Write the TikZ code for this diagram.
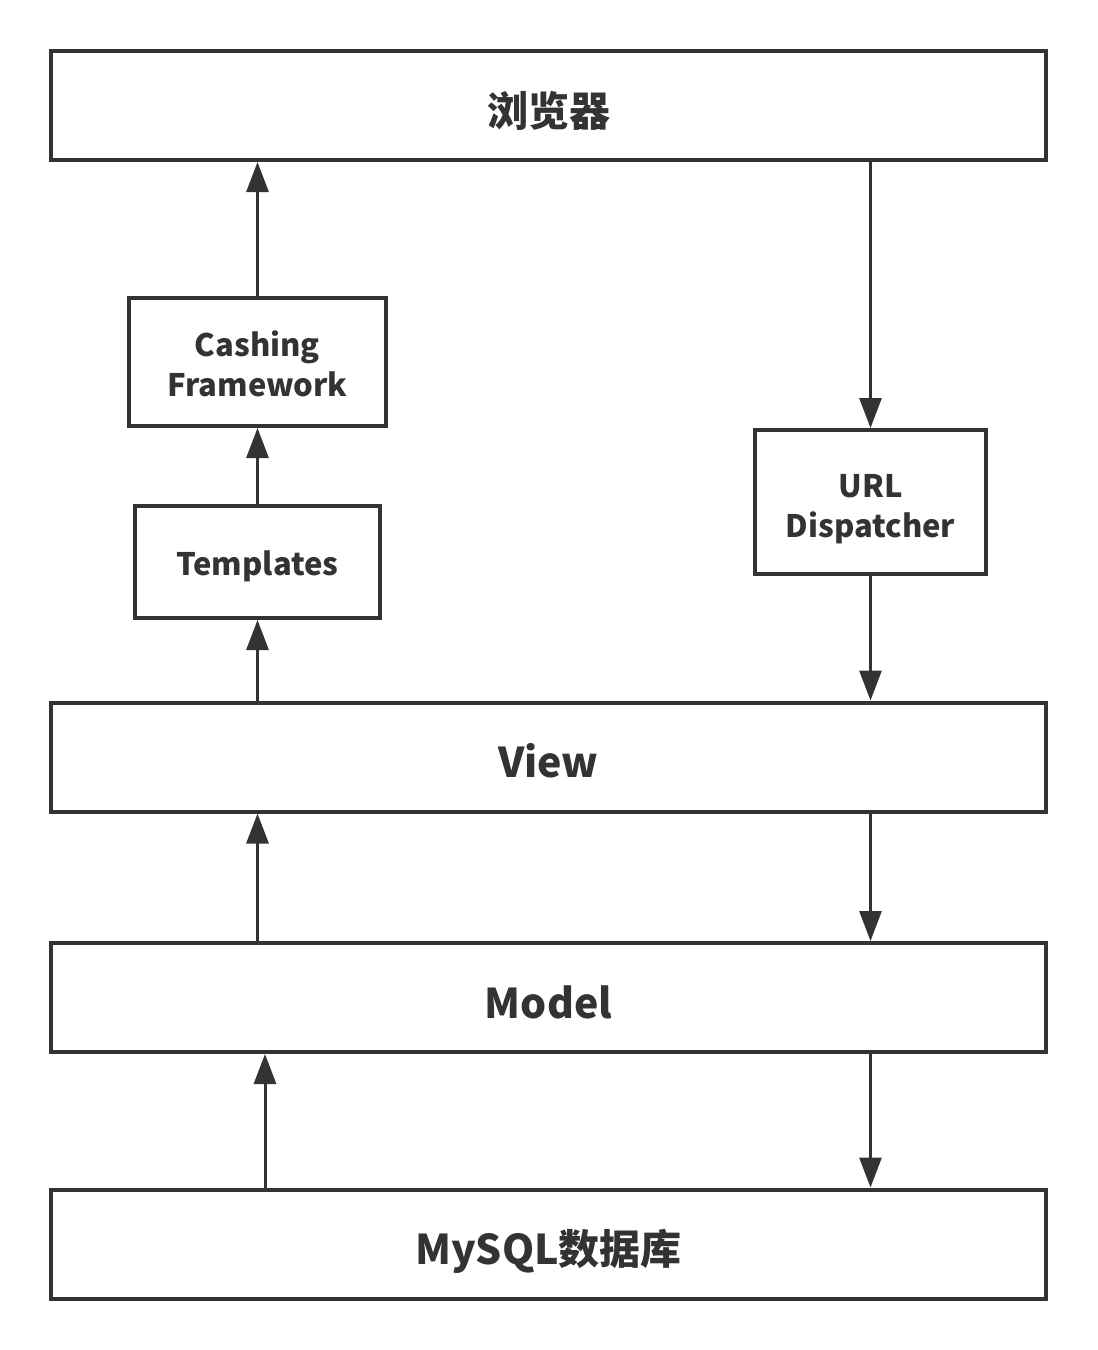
\documentclass[tikz,border=0pt]{standalone}
\usepackage{fontspec}
\setmainfont{Noto Sans CJK SC}
\usetikzlibrary{arrows.meta}
\definecolor{linegray}{HTML}{333333}
\begin{document}
\begin{tikzpicture}[x=1pt, y=-1pt, every node/.style={draw=linegray, line width=4pt, inner sep=0pt, text=linegray}]
	\tikzset{wide/.style={minimum width=995pt, minimum height=109pt, text height=41pt, text depth=0pt, font=\fontsize{41}{50}\selectfont\bfseries},
		small/.style={align=center, font=\fontsize{31}{40}\selectfont\bfseries},
		arr/.style={draw=linegray, line width=3pt, -{Triangle[width=22pt,length=30pt]}}}
	\useasboundingbox (0,0) rectangle (1098,1350);
	\node[wide] (browser) at (548.5,105.5) {浏览器};
	\node[small, minimum width=257pt, minimum height=128pt, text height=70pt] (cashing) at (257.5,362) {Cashing\\Framework};
	\node[small, minimum width=245pt, minimum height=112pt, text height=34pt] (templates) at (257.5,562) {Templates};
	\node[small, minimum width=231pt, minimum height=144pt, text height=77pt] (url) at (870.5,502) {URL\\Dispatcher};
	\node[wide] (view) at (548.5,757) {View};
	\node[wide] (model) at (548.5,997.5) {Model};
	\node[wide] (mysql) at (548.5,1244) {MySQL数据库};
	\coordinate (m1) at (265,1120);
	\foreach \from/\to in {
		templates.north/cashing.south, cashing.north/browser.south -| cashing,
		view.north -| templates/templates.south,
		browser.south -| url/url.north, url.south/view.north -| url,
		model.north -| templates/view.south -| templates, view.south -| url/model.north -| url,
		mysql.north -| m1/model.south -| m1, model.south -| url/mysql.north -| url}
	\draw[arr] (\from) -- (\to);
\end{tikzpicture}
\end{document}
